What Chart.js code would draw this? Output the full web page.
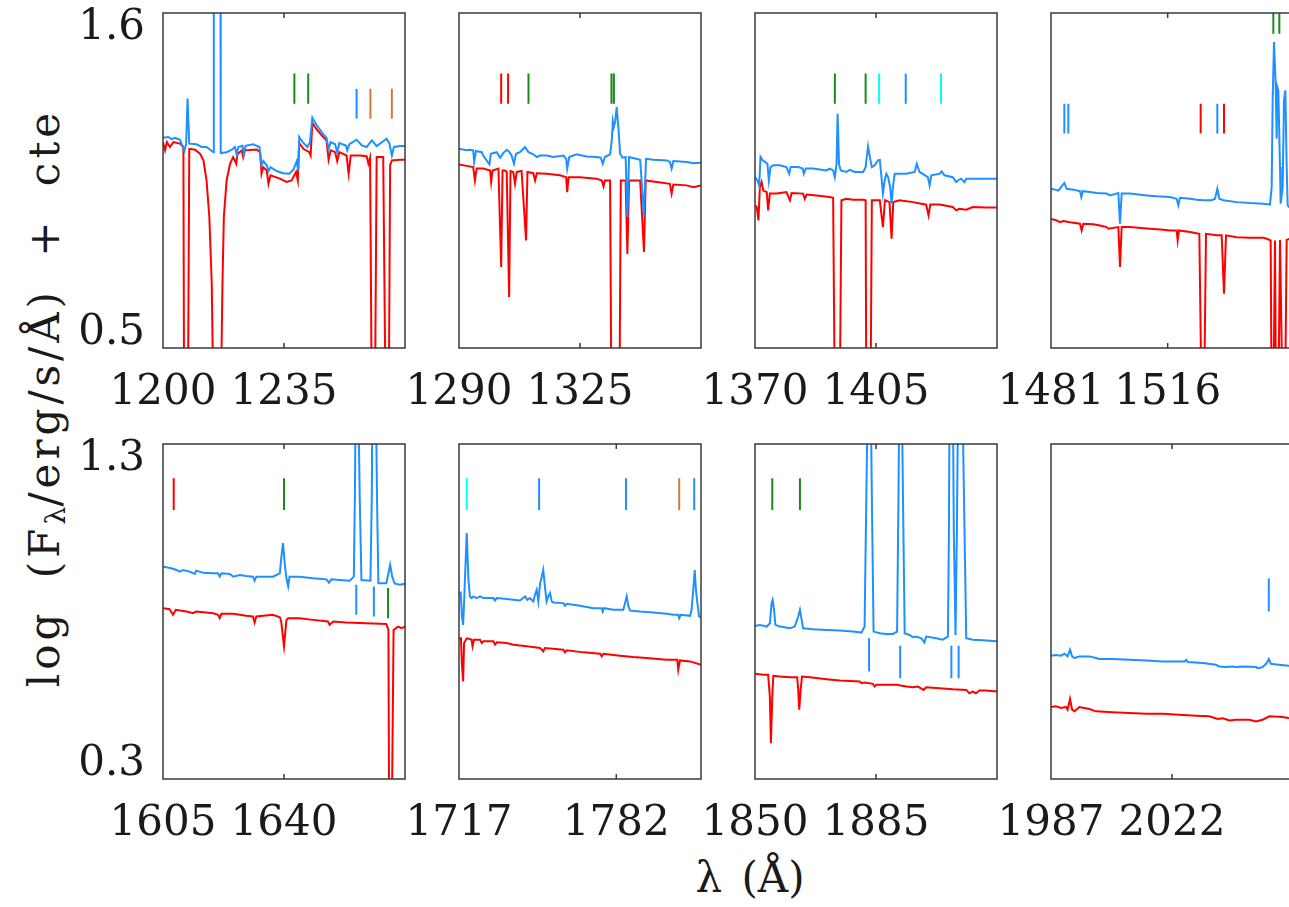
<!DOCTYPE html>
<html><head><meta charset="utf-8">
<script src="https://cdn.jsdelivr.net/npm/chart.js@4.4.0/dist/chart.umd.min.js"></script>
<style>
html,body{margin:0;padding:0;background:#fff;}
body{width:1289px;height:907px;overflow:hidden;position:relative;}
canvas{position:absolute;}
#ytitle{position:absolute;left:47px;top:398px;transform:translate(-50%,-50%) rotate(-90deg);white-space:nowrap;font-family:'DejaVu Serif','Liberation Serif',serif;font-size:42px;line-height:1;color:#1a1a1a;letter-spacing:4px;word-spacing:14px;}
#ytitle sub{font-size:0.68em;vertical-align:-0.22em;letter-spacing:0;}
#xtitle{position:absolute;left:750px;top:878px;transform:translate(-50%,-50%);white-space:nowrap;font-family:'DejaVu Serif','Liberation Serif',serif;font-size:42px;line-height:1;color:#1a1a1a;word-spacing:6px;}
</style></head>
<body>
<div id="ytitle">log (F<sub>λ</sub>/erg/s/Å) + cte</div>
<div id="xtitle">λ (Å)</div>
<script>
// ---------------- axis ranges / tick labels ----------------
const topYTicks = [0.5, 1.6];
const bottomYTicks = [0.3, 1.3];
const topRanges = [[1200, 1270], [1290, 1360], [1370, 1440], [1481, 1553.6]];
const bottomRanges = [[1605, 1675], [1717, 1817], [1850, 1920], [1987, 2057]];
const topTickWl = [[1200, 1235], [1290, 1325], [1370, 1405], [1481, 1516]];
const bottomTickWl = [[1605, 1640], [1717, 1782], [1850, 1885], [1987, 2022]];

// ---------------- panel 1 (top) ----------------
const t1BlueWl = [1200.0,1201.5,1202.5,1203.5,1204.9,1206.2,1206.7,1207.1,1207.6,1209.7,1211.2,1212.6,1214.1,1214.6,1214.7,1216.6,1216.7,1218.4,1219.9,1220.8,1221.3,1221.8,1223.0,1223.4,1223.9,1226.1,1227.9,1228.5,1229.0,1230.0,1230.5,1231.1,1232.9,1234.8,1236.5,1237.7,1238.7,1239.1,1239.4,1240.4,1241.8,1242.5,1243.2,1244.3,1245.9,1247.3,1247.9,1248.5,1249.8,1250.4,1251.0,1252.9,1253.3,1253.9,1256.0,1257.5,1258.9,1260.4,1261.8,1264.7,1265.5,1266.2,1266.8,1268.6,1270.0];
const t1BlueFlux = [1.190,1.193,1.186,1.190,1.184,1.147,1.171,1.319,1.171,1.169,1.160,1.160,1.147,1.143,2.0,2.0,1.140,1.143,1.151,1.160,1.136,1.160,1.164,1.136,1.164,1.169,1.160,1.100,1.114,1.100,1.081,1.094,1.081,1.074,1.072,1.085,1.114,1.083,1.193,1.176,1.160,1.176,1.256,1.234,1.209,1.190,1.154,1.176,1.169,1.143,1.173,1.165,1.149,1.169,1.184,1.165,1.160,1.182,1.163,1.187,1.171,1.132,1.160,1.163,1.163];
const t1RedWl = [1200.0,1200.6,1201.1,1202.0,1203.0,1204.9,1205.9,1206.1,1207.2,1207.6,1209.3,1210.7,1211.7,1212.6,1213.4,1214.1,1214.6,1216.7,1217.2,1217.6,1218.4,1219.4,1220.3,1221.2,1221.5,1222.8,1223.2,1223.7,1227.1,1228.1,1228.5,1229.0,1230.0,1230.5,1231.1,1233.8,1235.8,1237.2,1238.5,1239.0,1239.4,1240.6,1242.3,1242.7,1243.2,1244.3,1245.9,1247.3,1247.9,1248.5,1249.8,1250.4,1251.0,1253.1,1253.7,1254.3,1257.0,1258.9,1259.4,1259.9,1260.4,1261.3,1261.8,1263.7,1264.4,1265.3,1265.7,1266.2,1268.6,1270.0];
const t1RedFlux = [1.176,1.149,1.176,1.160,1.176,1.171,1.160,0.3,0.3,1.154,1.151,1.138,1.116,1.050,0.930,0.711,0.3,0.3,0.711,0.930,1.050,1.105,1.127,1.105,1.136,1.149,1.127,1.149,1.152,1.143,1.072,1.094,1.083,1.039,1.067,1.056,1.045,1.050,1.078,1.050,1.173,1.154,1.143,1.132,1.239,1.220,1.198,1.182,1.118,1.149,1.143,1.114,1.143,1.132,1.072,1.132,1.132,1.130,1.105,1.125,0.3,0.3,1.127,1.127,0.3,0.3,1.100,1.116,1.118,1.118];
const t1MarkWl = [1238.0,1242.0,1256.0,1260.0,1266.2];
const t1MarkIon = ['g','g','b','o','o'];
const t1MarkLo = [1.302,1.302,1.253,1.253,1.253];
const t1MarkHi = [1.401,1.401,1.351,1.351,1.351];

// ---------------- panel 2 (top) ----------------
const t2BlueWl = [1290.0,1292.2,1293.2,1294.1,1294.4,1294.9,1296.6,1297.0,1298.8,1299.2,1300.9,1301.9,1302.8,1303.8,1304.6,1305.2,1305.9,1306.5,1307.6,1309.1,1310.1,1311.5,1312.5,1313.4,1315.4,1317.3,1320.2,1321.0,1321.3,1321.9,1324.0,1326.9,1329.8,1331.0,1331.6,1332.2,1333.7,1334.2,1334.5,1334.8,1335.2,1335.6,1336.1,1336.6,1337.3,1338.2,1338.7,1339.2,1340.0,1342.4,1343.5,1344.1,1346.2,1350.1,1351.0,1351.5,1352.0,1355.9,1357.8,1360.0];
const t2BlueFlux = [1.154,1.149,1.151,1.149,1.111,1.147,1.143,1.132,1.103,1.138,1.143,1.125,1.140,1.151,1.143,1.132,1.105,1.138,1.143,1.160,1.143,1.136,1.127,1.132,1.132,1.127,1.132,1.121,1.089,1.127,1.136,1.129,1.127,1.125,1.105,1.127,1.136,1.182,1.245,1.226,1.245,1.291,1.226,1.138,1.125,1.127,0.930,1.127,1.125,1.118,0.935,1.121,1.118,1.116,1.111,1.089,1.114,1.111,1.107,1.108];
const t2RedWl = [1290.0,1292.2,1294.1,1294.6,1295.1,1297.0,1299.0,1299.3,1299.7,1301.4,1302.2,1302.6,1303.3,1303.8,1304.5,1304.9,1305.7,1306.2,1306.7,1308.1,1309.4,1309.8,1311.5,1312.0,1312.5,1315.4,1319.2,1321.0,1321.3,1321.7,1325.0,1329.8,1331.3,1331.8,1332.2,1333.7,1334.1,1336.4,1336.8,1338.2,1338.7,1339.2,1342.4,1343.5,1344.0,1347.2,1351.0,1351.5,1352.0,1355.9,1357.8,1360.0];
const t2RedFlux = [1.103,1.098,1.094,1.050,1.089,1.089,1.083,1.045,1.083,1.089,0.766,1.083,1.083,1.078,0.667,1.081,1.078,1.039,1.078,1.081,0.853,1.078,1.074,1.050,1.074,1.072,1.067,1.061,1.012,1.061,1.061,1.056,1.050,1.031,1.050,1.050,0.3,0.3,1.050,1.050,0.809,1.050,1.050,0.815,1.050,1.045,1.039,1.007,1.037,1.034,1.028,1.034];
const t2MarkWl = [1302.2,1304.2,1310.1,1334.1,1334.8];
const t2MarkIon = ['r','r','g','g','g'];
const t2MarkLo = [1.302,1.302,1.302,1.302,1.302];
const t2MarkHi = [1.401,1.401,1.401,1.401,1.401];

// ---------------- panel 3 (top) ----------------
const t3BlueWl = [1370.0,1370.7,1371.2,1371.6,1372.2,1372.9,1373.6,1374.0,1374.5,1375.3,1377.2,1379.1,1379.9,1380.3,1382.5,1383.8,1384.1,1384.7,1386.8,1390.7,1391.6,1392.6,1393.1,1393.6,1393.9,1394.3,1394.8,1396.4,1397.4,1398.8,1401.3,1402.0,1402.7,1403.4,1403.8,1404.6,1405.6,1406.1,1406.5,1407.0,1407.5,1408.0,1408.5,1409.1,1409.5,1409.9,1410.4,1413.8,1416.2,1416.8,1417.6,1420.0,1420.5,1421.0,1423.4,1424.0,1424.8,1427.2,1428.2,1428.7,1429.6,1430.6,1431.1,1433.0,1440.0];
const t3BlueFlux = [1.061,1.050,1.034,1.127,1.116,1.111,1.105,1.050,1.094,1.100,1.100,1.094,1.072,1.094,1.094,1.089,1.072,1.089,1.089,1.083,1.089,1.083,1.061,1.105,1.269,1.105,1.083,1.078,1.085,1.078,1.078,1.094,1.162,1.116,1.094,1.100,1.116,1.118,1.072,1.007,1.050,1.072,1.061,1.028,0.974,1.028,1.072,1.072,1.078,1.105,1.078,1.061,1.034,1.067,1.072,1.080,1.067,1.061,1.045,1.050,1.056,1.045,1.056,1.056,1.056];
const t3RedWl = [1370.0,1370.5,1371.0,1371.4,1371.9,1372.4,1373.4,1373.8,1374.3,1376.3,1379.1,1380.1,1380.6,1383.9,1384.4,1384.9,1387.8,1391.6,1392.6,1393.1,1394.5,1395.0,1396.4,1398.4,1401.3,1402.0,1402.2,1403.4,1403.8,1406.1,1407.0,1407.6,1408.9,1409.5,1410.0,1411.8,1415.7,1418.1,1419.5,1420.2,1420.7,1423.4,1427.2,1428.2,1429.1,1431.1,1433.0,1436.8,1440.0];
const t3RedFlux = [0.968,0.963,0.919,1.028,1.045,1.017,1.012,0.952,1.007,1.007,1.012,0.985,1.009,1.007,0.990,1.004,1.001,0.996,0.993,0.3,0.3,0.985,0.990,0.987,0.987,0.985,0.3,0.3,0.985,0.985,0.897,0.985,0.979,0.859,0.979,0.985,0.979,0.974,0.971,0.935,0.971,0.971,0.963,0.952,0.957,0.954,0.963,0.961,0.961];
const t3MarkWl = [1393.1,1402.0,1405.9,1413.6,1423.8];
const t3MarkIon = ['g','g','c','b','c'];
const t3MarkLo = [1.302,1.302,1.302,1.302,1.302];
const t3MarkHi = [1.401,1.401,1.401,1.401,1.401];

// ---------------- panel 4 (top) ----------------
const t4BlueWl = [1481.0,1482.2,1483.2,1484.2,1485.0,1485.7,1487.7,1489.7,1490.1,1490.5,1492.7,1494.7,1497.7,1498.7,1501.2,1501.7,1502.2,1504.7,1509.7,1512.7,1516.7,1518.7,1519.2,1519.7,1522.7,1524.7,1526.7,1529.2,1530.2,1530.9,1531.5,1532.7,1536.7,1540.7,1544.7,1546.7,1547.2,1547.5,1547.9,1548.4,1548.7,1548.9,1549.2,1549.7,1549.9,1550.5,1550.9,1551.3,1551.7,1552.0,1552.4,1553.6];
const t4BlueFlux = [1.023,1.020,1.017,1.031,1.042,1.023,1.020,1.015,0.996,1.015,1.012,1.009,1.007,1.001,1.009,0.908,1.007,1.007,1.001,0.998,0.996,0.990,0.968,0.993,0.990,0.987,0.985,0.985,0.990,1.023,0.990,0.985,0.979,0.976,0.974,0.971,1.028,1.313,1.505,1.368,1.187,1.357,1.346,1.094,0.974,1.028,1.313,1.346,1.094,0.968,0.963,0.962];
const t4RedWl = [1481.0,1482.7,1483.7,1484.7,1486.7,1489.7,1490.2,1490.7,1493.7,1495.7,1497.7,1498.2,1501.2,1501.7,1502.2,1504.7,1509.7,1514.7,1516.7,1518.7,1519.0,1519.4,1522.7,1525.5,1526.2,1526.9,1527.5,1530.7,1532.2,1532.9,1533.5,1536.7,1540.7,1544.7,1545.7,1546.9,1547.2,1547.7,1548.2,1548.5,1549.2,1549.7,1550.5,1551.2,1551.7,1552.4,1553.6];
const t4RedFlux = [0.924,0.919,0.913,0.917,0.913,0.908,0.886,0.908,0.906,0.902,0.897,0.892,0.897,0.766,0.897,0.897,0.892,0.888,0.886,0.886,0.853,0.886,0.881,0.875,0.3,0.3,0.875,0.870,0.870,0.678,0.870,0.864,0.862,0.862,0.859,0.853,0.3,0.3,0.853,0.3,0.3,0.855,0.3,0.3,0.855,0.858,0.858];
const t4MarkWl = [1485.0,1486.2,1525.9,1530.9,1532.9,1547.7,1549.5];
const t4MarkIon = ['b','b','r','b','r','g','g'];
const t4MarkLo = [1.204,1.204,1.204,1.204,1.204,1.532,1.532];
const t4MarkHi = [1.302,1.302,1.302,1.302,1.302,1.600,1.600];

// ---------------- panel 5 (bottom) ----------------
const b1BlueWl = [1605.0,1606.0,1607.4,1608.9,1609.8,1610.8,1612.7,1614.2,1614.6,1616.6,1619.5,1620.9,1621.4,1621.9,1624.3,1625.3,1627.2,1629.1,1631.0,1631.5,1632.0,1634.9,1636.8,1638.8,1639.2,1639.7,1640.2,1640.7,1641.2,1641.6,1644.5,1648.4,1652.3,1653.0,1653.7,1656.1,1659.0,1660.2,1660.5,1660.8,1661.4,1661.9,1662.4,1665.0,1665.4,1665.6,1666.5,1666.9,1667.3,1669.6,1670.2,1670.7,1671.3,1672.0,1673.5,1675.0];
const b1BlueFlux = [0.934,0.932,0.929,0.924,0.919,0.924,0.919,0.912,0.922,0.916,0.914,0.914,0.904,0.914,0.912,0.904,0.909,0.906,0.904,0.892,0.904,0.904,0.904,0.914,0.959,1.004,0.944,0.899,0.875,0.904,0.904,0.899,0.896,0.886,0.896,0.894,0.892,0.904,1.143,1.5,1.5,1.143,0.894,0.892,1.143,1.5,1.5,1.143,0.884,0.884,0.914,0.939,0.904,0.884,0.880,0.883];
const b1RedWl = [1605.0,1606.9,1607.9,1608.7,1611.8,1613.7,1614.6,1617.5,1619.5,1620.9,1621.4,1621.9,1625.3,1629.1,1631.0,1631.5,1632.0,1636.8,1638.8,1639.2,1640.0,1640.7,1641.2,1644.5,1648.4,1652.7,1653.2,1654.2,1658.0,1663.8,1669.6,1670.2,1670.4,1671.2,1671.7,1673.0,1674.0,1675.0];
const b1RedFlux = [0.810,0.807,0.790,0.805,0.800,0.795,0.800,0.797,0.795,0.790,0.780,0.793,0.793,0.787,0.785,0.767,0.785,0.790,0.783,0.770,0.696,0.775,0.780,0.780,0.775,0.770,0.760,0.770,0.767,0.765,0.763,0.745,0.2,0.2,0.745,0.755,0.750,0.755];
const b1MarkWl = [1608.1,1640.0,1660.9,1666.0,1670.1];
const b1MarkIon = ['r','g','b','b','g'];
const b1MarkLo = [1.103,1.103,0.790,0.785,0.780];
const b1MarkHi = [1.198,1.198,0.880,0.875,0.870];

// ---------------- panel 6 (bottom) ----------------
const b2BlueWl = [1717.0,1717.7,1718.2,1718.7,1719.2,1719.6,1720.2,1720.9,1721.5,1722.2,1722.9,1724.3,1725.7,1727.1,1731.2,1731.9,1732.6,1736.7,1742.2,1744.3,1745.2,1746.3,1747.7,1748.4,1749.1,1749.8,1750.5,1751.2,1751.8,1752.5,1753.2,1753.9,1754.6,1755.3,1756.0,1760.1,1760.8,1761.5,1767.0,1772.5,1776.0,1776.4,1776.9,1780.8,1784.9,1785.6,1786.3,1787.0,1787.7,1791.8,1797.3,1802.8,1805.6,1807.6,1808.0,1808.6,1812.5,1813.1,1813.8,1814.4,1814.9,1815.5,1816.2,1817.0];
const b2BlueFlux = [0.850,0.855,0.785,0.760,0.845,0.924,1.034,0.894,0.845,0.840,0.845,0.840,0.845,0.840,0.840,0.833,0.840,0.837,0.833,0.845,0.835,0.840,0.830,0.850,0.865,0.830,0.884,0.904,0.924,0.875,0.830,0.845,0.855,0.830,0.827,0.825,0.817,0.823,0.817,0.810,0.810,0.800,0.810,0.805,0.805,0.825,0.845,0.815,0.803,0.800,0.797,0.793,0.790,0.790,0.780,0.790,0.787,0.805,0.865,0.924,0.865,0.825,0.785,0.783];
const b2RedWl = [1717.0,1717.8,1718.2,1718.7,1719.1,1720.2,1722.2,1722.6,1723.2,1725.7,1726.4,1727.1,1731.2,1731.9,1732.6,1736.7,1739.5,1745.0,1750.5,1751.2,1751.8,1752.5,1760.1,1760.8,1761.5,1768.4,1775.3,1776.0,1776.6,1783.5,1789.0,1794.5,1802.8,1807.2,1807.6,1808.3,1812.5,1817.0];
const b2RedFlux = [0.720,0.720,0.646,0.591,0.706,0.720,0.716,0.696,0.716,0.716,0.706,0.711,0.711,0.701,0.708,0.706,0.701,0.696,0.691,0.686,0.681,0.691,0.686,0.678,0.684,0.678,0.674,0.666,0.674,0.668,0.664,0.661,0.656,0.656,0.626,0.654,0.651,0.641];
const b2MarkWl = [1720.2,1750.1,1786.0,1808.0,1814.2];
const b2MarkIon = ['c','b','b','o','b'];
const b2MarkLo = [1.103,1.103,1.103,1.103,1.103];
const b2MarkHi = [1.198,1.198,1.198,1.198,1.198];

// ---------------- panel 7 (bottom) ----------------
const b3BlueWl = [1850.0,1851.4,1853.4,1854.3,1854.8,1855.1,1855.5,1855.9,1857.2,1860.1,1861.5,1862.5,1863.0,1863.5,1863.9,1866.8,1870.7,1874.5,1878.4,1880.8,1881.7,1882.2,1882.7,1883.4,1883.8,1884.3,1886.1,1888.0,1889.9,1891.1,1891.5,1891.8,1892.4,1892.8,1893.3,1894.7,1895.7,1896.6,1898.1,1899.0,1899.5,1902.4,1904.3,1905.8,1906.1,1906.3,1907.2,1907.5,1908.0,1908.4,1908.8,1909.9,1910.6,1911.1,1913.0,1915.9,1920.0];
const b3BlueFlux = [0.757,0.760,0.755,0.765,0.825,0.835,0.805,0.760,0.755,0.750,0.755,0.785,0.805,0.775,0.750,0.747,0.745,0.743,0.740,0.737,0.755,1.143,1.5,1.5,1.143,0.740,0.735,0.733,0.733,0.740,1.143,1.5,1.5,1.143,0.735,0.730,0.723,0.725,0.720,0.708,0.725,0.720,0.716,0.725,1.044,1.5,1.5,1.044,0.730,1.044,1.5,1.5,1.044,0.720,0.716,0.714,0.711];
const b3RedWl = [1850.0,1852.4,1853.8,1854.3,1854.6,1855.0,1855.3,1857.2,1860.1,1862.2,1862.5,1862.8,1863.2,1863.6,1865.9,1870.7,1874.5,1880.3,1880.8,1881.7,1884.1,1884.6,1885.1,1888.0,1890.9,1893.8,1895.7,1897.1,1898.8,1899.5,1903.4,1907.2,1911.1,1912.0,1913.0,1913.9,1914.9,1916.8,1920.0];
const b3RedFlux = [0.614,0.611,0.611,0.547,0.407,0.547,0.608,0.606,0.604,0.604,0.566,0.507,0.566,0.606,0.604,0.598,0.594,0.591,0.586,0.588,0.584,0.576,0.581,0.581,0.581,0.576,0.574,0.576,0.566,0.574,0.571,0.568,0.566,0.556,0.561,0.556,0.564,0.564,0.561];
const b3MarkWl = [1855.0,1863.0,1883.0,1892.0,1906.8,1908.9];
const b3MarkIon = ['g','g','b','b','b','b'];
const b3MarkLo = [1.103,1.103,0.621,0.601,0.601,0.601];
const b3MarkHi = [1.198,1.198,0.720,0.698,0.698,0.698];

// ---------------- panel 8 (bottom) ----------------
const b4BlueWl = [1987.0,1988.4,1989.9,1990.9,1991.8,1992.5,1993.1,1993.8,1995.2,1998.1,2000.0,2001.0,2004.8,2009.7,2014.5,2019.3,2025.6,2026.1,2026.5,2030.9,2034.7,2035.7,2037.6,2039.6,2040.5,2042.4,2046.3,2046.8,2048.2,2049.4,2050.0,2050.6,2052.1,2055.7,2057.0];
const b4BlueFlux = [0.668,0.670,0.668,0.674,0.666,0.686,0.666,0.661,0.666,0.666,0.661,0.658,0.658,0.656,0.654,0.651,0.651,0.656,0.649,0.646,0.641,0.636,0.634,0.636,0.634,0.636,0.634,0.631,0.634,0.646,0.658,0.644,0.642,0.638,0.637];
const b4RedWl = [1987.0,1988.4,1989.9,1991.3,1991.8,1992.5,1993.1,1993.8,1995.2,1998.1,2000.0,2004.8,2009.7,2014.5,2019.3,2024.1,2029.0,2032.8,2035.2,2036.7,2038.6,2040.5,2044.4,2046.3,2048.2,2050.2,2054.0,2055.7,2057.0];
const b4RedFlux = [0.515,0.517,0.512,0.515,0.507,0.539,0.507,0.502,0.515,0.509,0.502,0.499,0.497,0.495,0.495,0.492,0.489,0.487,0.479,0.481,0.475,0.477,0.477,0.472,0.477,0.487,0.485,0.482,0.481];
const b4MarkWl = [2050.0];
const b4MarkIon = ['b'];
const b4MarkLo = [0.800];
const b4MarkHi = [0.899];

// ---------------- rendering ----------------
const BLUE = '#1e90ff', RED = '#ff0000';
const ionColor = {g: '#1a8a1a', b: '#1e90ff', o: '#d2773a', r: '#ff0000', c: '#00ffff'};
const FONT = "'DejaVu Serif', 'Liberation Serif', serif";
const TXT = '#1a1a1a';
const PW = 242, PH = 335;
const M = {l: 120, t: 60, r: 30, b: 90};

function zip(wl, fl) {
  const n = Math.min(wl.length, fl.length), out = [];
  for (let i = 0; i < n; i++) out.push({x: wl[i], y: fl[i]});
  return out;
}
function marks(wl, ion, lo, hi, k) {
  const out = [];
  wl.forEach((w, i) => { if (ion[i] === k) out.push({x: w, y: lo[i]}, {x: w, y: hi[i]}, {x: w, y: null}); });
  return out;
}

const framePlugin = {
  id: 'frame',
  afterDatasetsDraw(chart) {
    const {ctx, chartArea: a} = chart;
    const xs = chart.scales.x;
    ctx.save();
    ctx.strokeStyle = '#3a3a3a';
    ctx.lineWidth = 1.5;
    ctx.strokeRect(a.left, a.top, a.right - a.left, a.bottom - a.top);
    ctx.beginPath();
    xs.ticks.forEach(t => {
      const px = xs.getPixelForValue(t.value);
      if (px > a.left + 2 && px < a.right - 2) {
        ctx.moveTo(px, a.bottom); ctx.lineTo(px, a.bottom - 5);
        ctx.moveTo(px, a.top); ctx.lineTo(px, a.top + 5);
      }
    });
    ctx.stroke();
    ctx.restore();
  }
};

function makePanel(p) {
  const cv = document.createElement('canvas');
  const w = PW + M.l + M.r, h = PH + M.t + M.b;
  cv.width = w; cv.height = h;
  cv.style.left = (p.L - M.l) + 'px';
  cv.style.top = (p.T - M.t) + 'px';
  cv.style.width = w + 'px'; cv.style.height = h + 'px';
  document.body.appendChild(cv);

  const datasets = [
    {data: zip(p.bw, p.bf), borderColor: BLUE, borderWidth: 2},
    {data: zip(p.rw, p.rf), borderColor: RED, borderWidth: 2}
  ];
  Object.keys(ionColor).forEach(k => {
    const d = marks(p.mw, p.mi, p.ml, p.mh, k);
    if (d.length) datasets.push({data: d, borderColor: ionColor[k], borderWidth: 2, spanGaps: false});
  });

  const [ymin, ymax] = p.yt;
  new Chart(cv, {
    type: 'line',
    data: {datasets},
    options: {
      responsive: false, animation: false, maintainAspectRatio: false,
      layout: {padding: {left: 0, top: M.t, right: M.r, bottom: 0}},
      plugins: {legend: {display: false}, tooltip: {enabled: false}},
      elements: {point: {radius: 0}, line: {tension: 0, fill: false, borderCapStyle: 'butt'}},
      scales: {
        x: {
          type: 'linear', min: p.xr[0], max: p.xr[1],
          afterBuildTicks: s => { s.ticks = p.xt.map(v => ({value: v})); },
          afterFit: s => { s.height = M.b; },
          grid: {display: false, drawTicks: false}, border: {display: false},
          ticks: {autoSkip: false, maxRotation: 0, minRotation: 0, padding: 20, color: TXT,
                  font: {family: FONT, size: 42, lineHeight: 1.2},
                  callback: v => String(v)}
        },
        y: {
          type: 'linear', min: ymin, max: ymax,
          afterBuildTicks: s => { s.ticks = p.yt.map(v => ({value: v})); },
          afterFit: s => { s.width = M.l; },
          grid: {display: false, drawTicks: false}, border: {display: false},
          ticks: {display: p.showY, padding: 18, color: TXT,
                  font: {family: FONT, size: 42, lineHeight: 0.7},
                  callback: v => (v === ymax ? ['', v.toFixed(1)] : [v.toFixed(1), ''])}
        }
      }
    },
    plugins: [framePlugin]
  });
}

const colL = [163, 459, 755, 1051];
const panels = [
  {L: colL[0], T: 13, xr: topRanges[0], xt: topTickWl[0], yt: topYTicks, showY: true, bw: t1BlueWl, bf: t1BlueFlux, rw: t1RedWl, rf: t1RedFlux, mw: t1MarkWl, mi: t1MarkIon, ml: t1MarkLo, mh: t1MarkHi},
  {L: colL[1], T: 13, xr: topRanges[1], xt: topTickWl[1], yt: topYTicks, showY: false, bw: t2BlueWl, bf: t2BlueFlux, rw: t2RedWl, rf: t2RedFlux, mw: t2MarkWl, mi: t2MarkIon, ml: t2MarkLo, mh: t2MarkHi},
  {L: colL[2], T: 13, xr: topRanges[2], xt: topTickWl[2], yt: topYTicks, showY: false, bw: t3BlueWl, bf: t3BlueFlux, rw: t3RedWl, rf: t3RedFlux, mw: t3MarkWl, mi: t3MarkIon, ml: t3MarkLo, mh: t3MarkHi},
  {L: colL[3], T: 13, xr: topRanges[3], xt: topTickWl[3], yt: topYTicks, showY: false, bw: t4BlueWl, bf: t4BlueFlux, rw: t4RedWl, rf: t4RedFlux, mw: t4MarkWl, mi: t4MarkIon, ml: t4MarkLo, mh: t4MarkHi},
  {L: colL[0], T: 444, xr: bottomRanges[0], xt: bottomTickWl[0], yt: bottomYTicks, showY: true, bw: b1BlueWl, bf: b1BlueFlux, rw: b1RedWl, rf: b1RedFlux, mw: b1MarkWl, mi: b1MarkIon, ml: b1MarkLo, mh: b1MarkHi},
  {L: colL[1], T: 444, xr: bottomRanges[1], xt: bottomTickWl[1], yt: bottomYTicks, showY: false, bw: b2BlueWl, bf: b2BlueFlux, rw: b2RedWl, rf: b2RedFlux, mw: b2MarkWl, mi: b2MarkIon, ml: b2MarkLo, mh: b2MarkHi},
  {L: colL[2], T: 444, xr: bottomRanges[2], xt: bottomTickWl[2], yt: bottomYTicks, showY: false, bw: b3BlueWl, bf: b3BlueFlux, rw: b3RedWl, rf: b3RedFlux, mw: b3MarkWl, mi: b3MarkIon, ml: b3MarkLo, mh: b3MarkHi},
  {L: colL[3], T: 444, xr: bottomRanges[3], xt: bottomTickWl[3], yt: bottomYTicks, showY: false, bw: b4BlueWl, bf: b4BlueFlux, rw: b4RedWl, rf: b4RedFlux, mw: b4MarkWl, mi: b4MarkIon, ml: b4MarkLo, mh: b4MarkHi}
];
panels.forEach(makePanel);
</script>
</body></html>
